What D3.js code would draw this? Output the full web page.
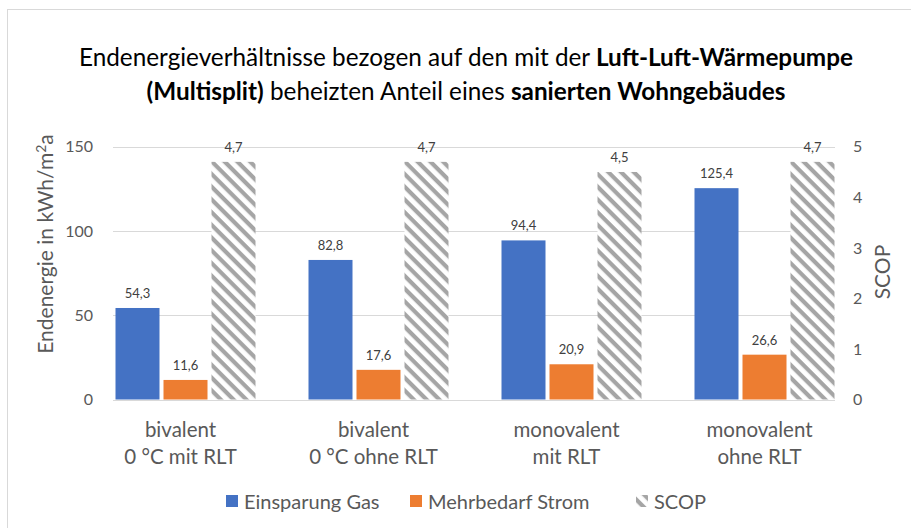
<!DOCTYPE html>
<html>
<head>
<meta charset="utf-8">
<style>

body {
  margin: 0;
  background: #fff;
}

text {
  font-family: Lato, "Open Sans", sans-serif;
}

.grid line {
  stroke: #d9d9d9;
  stroke-width: 1;
}

</style>
</head>
<body>
<svg width="911" height="528"></svg>
<script src="https://d3js.org/d3.v7.min.js"></script>
<script>

// values
var categories = [
  ["bivalent", "0 °C mit RLT"],
  ["bivalent", "0 °C ohne RLT"],
  ["monovalent", "mit RLT"],
  ["monovalent", "ohne RLT"]
];
var gas = [54.3, 82.8, 94.4, 125.4];
var strom = [11.6, 17.6, 20.9, 26.6];
var scop = [4.7, 4.7, 4.5, 4.7];

var leftTicks = [0, 50, 100, 150];
var rightTicks = [0, 1, 2, 3, 4, 5];

var seriesNames = ["Einsparung Gas", "Mehrbedarf Strom", "SCOP"];

var svg = d3.select("svg"),
    width = +svg.attr("width"),
    height = +svg.attr("height");

var de = d3.formatLocale({decimal: ",", thousands: ".", grouping: [3], currency: ["", " €"]});
var fmt = de.format(".1f");

// chart frame
svg.append("rect")
    .attr("x", 7.5)
    .attr("y", 9.5)
    .attr("width", width)
    .attr("height", height)
    .attr("fill", "none")
    .attr("stroke", "#d9d9d9");

var defs = svg.append("defs");
var hatch = defs.append("pattern")
    .attr("id", "hatch")
    .attr("patternUnits", "userSpaceOnUse")
    .attr("width", 9)
    .attr("height", 9)
    .attr("patternTransform", "rotate(45)");
hatch.append("rect")
    .attr("width", 9).attr("height", 9).attr("fill", "#fff");
hatch.append("rect")
    .attr("width", 9).attr("height", 4.2).attr("fill", "#a5a5a5");

var plotLeft = 113, plotRight = 835;

var y = d3.scaleLinear()
    .domain([0, 150])
    .range([399.5, 146.7]);

var y2 = d3.scaleLinear()
    .domain([0, 5])
    .range([399.5, 146.7]);

var x0 = d3.scaleBand()
    .domain(d3.range(categories.length))
    .range([84, 856]);

var x1 = d3.scaleBand()
    .domain(["gas", "strom", "scop"])
    .range([-65, 75])
    .paddingInner(4 / 48);

// title
var title = svg.append("text")
    .attr("text-anchor", "middle")
    .attr("fill", "#000")
    .style("font-size", "24.3px");
var t1 = title.append("tspan").attr("x", 466).attr("y", 66);
t1.append("tspan").text("Endenergieverhältnisse bezogen auf den mit der ");
t1.append("tspan").attr("font-weight", "bold").text("Luft-Luft-Wärmepumpe");
var t2 = title.append("tspan").attr("x", 466).attr("y", 100);
t2.append("tspan").attr("font-weight", "bold").text("(Multisplit)");
t2.append("tspan").text(" beheizten Anteil eines ");
t2.append("tspan").attr("font-weight", "bold").text("sanierten Wohngebäudes");

// gridlines
svg.append("g")
    .attr("class", "grid")
    .selectAll("line")
    .data(leftTicks)
    .enter().append("line")
      .attr("x1", plotLeft)
      .attr("x2", plotRight)
      .attr("y1", function(d) { return Math.round(y(d)) + 0.5; })
      .attr("y2", function(d) { return Math.round(y(d)) + 0.5; });

// left axis labels
svg.append("g")
    .selectAll("text")
    .data(leftTicks)
    .enter().append("text")
      .attr("x", 93)
      .attr("y", function(d) { return y(d); })
      .attr("dy", "0.36em")
      .attr("text-anchor", "end")
      .attr("fill", "#595959")
      .style("font-size", "16px")
      .text(function(d) { return d; });

// right axis labels
svg.append("g")
    .selectAll("text")
    .data(rightTicks)
    .enter().append("text")
      .attr("x", 853)
      .attr("y", function(d) { return y2(d); })
      .attr("dy", "0.36em")
      .attr("fill", "#595959")
      .style("font-size", "16px")
      .text(function(d) { return d; });

// axis titles
svg.append("text")
    .attr("transform", "translate(53,244) rotate(-90)")
    .attr("text-anchor", "middle")
    .attr("fill", "#595959")
    .style("font-size", "21px")
    .html("Endenergie in kWh/m<tspan font-size=\"14px\" dy=\"-7\">2</tspan><tspan dy=\"7\">a</tspan>");

svg.append("text")
    .attr("transform", "translate(890,272) rotate(-90)")
    .attr("text-anchor", "middle")
    .attr("fill", "#595959")
    .style("font-size", "21px")
    .text("SCOP");

// bars
var groups = svg.append("g")
    .selectAll("g")
    .data(d3.range(categories.length))
    .enter().append("g")
      .attr("transform", function(i) { return "translate(" + (x0(i) + x0.bandwidth() / 2) + ",0)"; });

groups.append("rect")
    .attr("x", x1("gas"))
    .attr("width", x1.bandwidth())
    .attr("y", function(i) { return y(gas[i]); })
    .attr("height", function(i) { return y(0) - y(gas[i]); })
    .attr("fill", "#4472c4");

groups.append("rect")
    .attr("x", x1("strom"))
    .attr("width", x1.bandwidth())
    .attr("y", function(i) { return y(strom[i]); })
    .attr("height", function(i) { return y(0) - y(strom[i]); })
    .attr("fill", "#ed7d31");

groups.append("rect")
    .attr("x", x1("scop"))
    .attr("width", x1.bandwidth())
    .attr("y", function(i) { return y2(scop[i]); })
    .attr("height", function(i) { return y2(0) - y2(scop[i]); })
    .attr("fill", "url(#hatch)");

// value labels
function valueLabel(key, vals, scale) {
  groups.append("text")
      .attr("x", x1(key) + x1.bandwidth() / 2)
      .attr("y", function(i) { return scale(vals[i]) - 10; })
      .attr("text-anchor", "middle")
      .attr("fill", "#404040")
      .style("font-size", "13px")
      .text(function(i) { return fmt(vals[i]); });
}
valueLabel("gas", gas, y);
valueLabel("strom", strom, y);
valueLabel("scop", scop, y2);

// category labels
groups.append("text")
    .attr("text-anchor", "middle")
    .attr("fill", "#595959")
    .style("font-size", "20.5px")
    .selectAll("tspan")
    .data(function(i) { return categories[i]; })
    .enter().append("tspan")
      .attr("x", 0)
      .attr("y", function(d, j) { return 437 + j * 27; })
      .text(function(d) { return d; });

// legend
var legendX = [226, 410, 636];
var legendFill = ["#4472c4", "#ed7d31", "url(#hatch)"];
var legend = svg.append("g")
    .selectAll("g")
    .data(seriesNames)
    .enter().append("g")
      .attr("transform", function(d, i) { return "translate(" + legendX[i] + ",0)"; });

legend.append("rect")
    .attr("y", 495)
    .attr("width", 12)
    .attr("height", 12)
    .attr("fill", function(d, i) { return legendFill[i]; });

legend.append("text")
    .attr("x", 18)
    .attr("y", 509)
    .attr("fill", "#595959")
    .style("font-size", "20px")
    .text(function(d) { return d; });

</script>
</body>
</html>
